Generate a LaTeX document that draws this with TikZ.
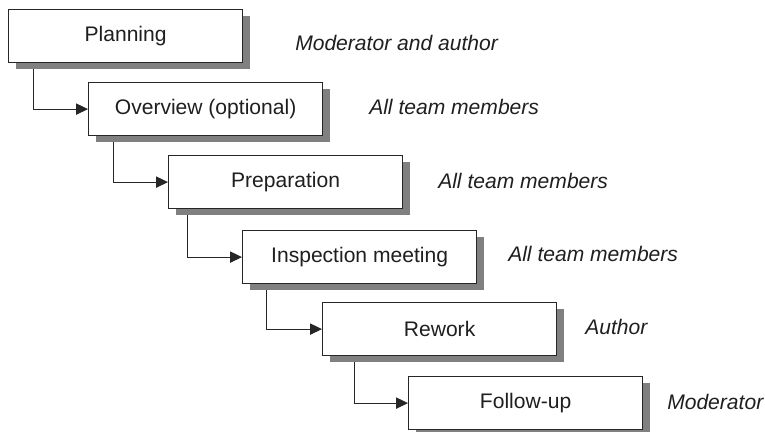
\documentclass[tikz,border=0pt]{standalone}
\usepackage{fontspec}
\setmainfont{Liberation Sans}
\usetikzlibrary{arrows.meta,shadows}
\begin{document}
\begin{tikzpicture}[x=0.75pt,y=-0.75pt,
  stepbox/.style={draw=black!85,line width=0.9pt,fill=white,anchor=north west,
    minimum width=175.5pt,minimum height=39.75pt,inner sep=0pt,
    font=\fontsize{15.8}{19}\selectfont,text=black!88,
    drop shadow={shadow xshift=5.25pt,shadow yshift=-4.5pt,fill=black!50,opacity=1}},
  role/.style={anchor=west,inner sep=0pt,font=\fontsize{15.8}{19}\selectfont\itshape,text=black!88},
  conn/.style={draw=black!85,line width=0.75pt,-{Triangle[length=9pt,width=8.5pt]}}]
\useasboundingbox (0,0) rectangle (765,432);
\node[stepbox] (b1) at (8,9) {Planning};
\node[stepbox] (b2) at (88,82) {Overview (optional)};
\node[stepbox] (b3) at (168,155) {Preparation};
\node[stepbox] (b4) at (242,230) {Inspection meeting};
\node[stepbox] (b5) at (322,302) {Rework};
\node[stepbox] (b6) at (408,376) {Follow-up};
\node[role] (r1) at (295,43) {Moderator and author};
\node[role] (r2) at (369,107) {All team members};
\node[role] (r3) at (438,181) {All team members};
\node[role] (r4) at (508,254) {All team members};
\node[role] (r5) at (585,327) {Author};
\node[role] (r6) at (667,402) {Moderator};
\draw[conn] ([shift={(25,6)}]b1.south west) |- (b2.west);
\draw[conn] ([shift={(25,6)}]b2.south west) |- (b3.west);
\draw[conn] ([shift={(19,6)}]b3.south west) |- (b4.west);
\draw[conn] ([shift={(24,6)}]b4.south west) |- (b5.west);
\draw[conn] ([shift={(32,6)}]b5.south west) |- (b6.west);
\end{tikzpicture}
\end{document}
